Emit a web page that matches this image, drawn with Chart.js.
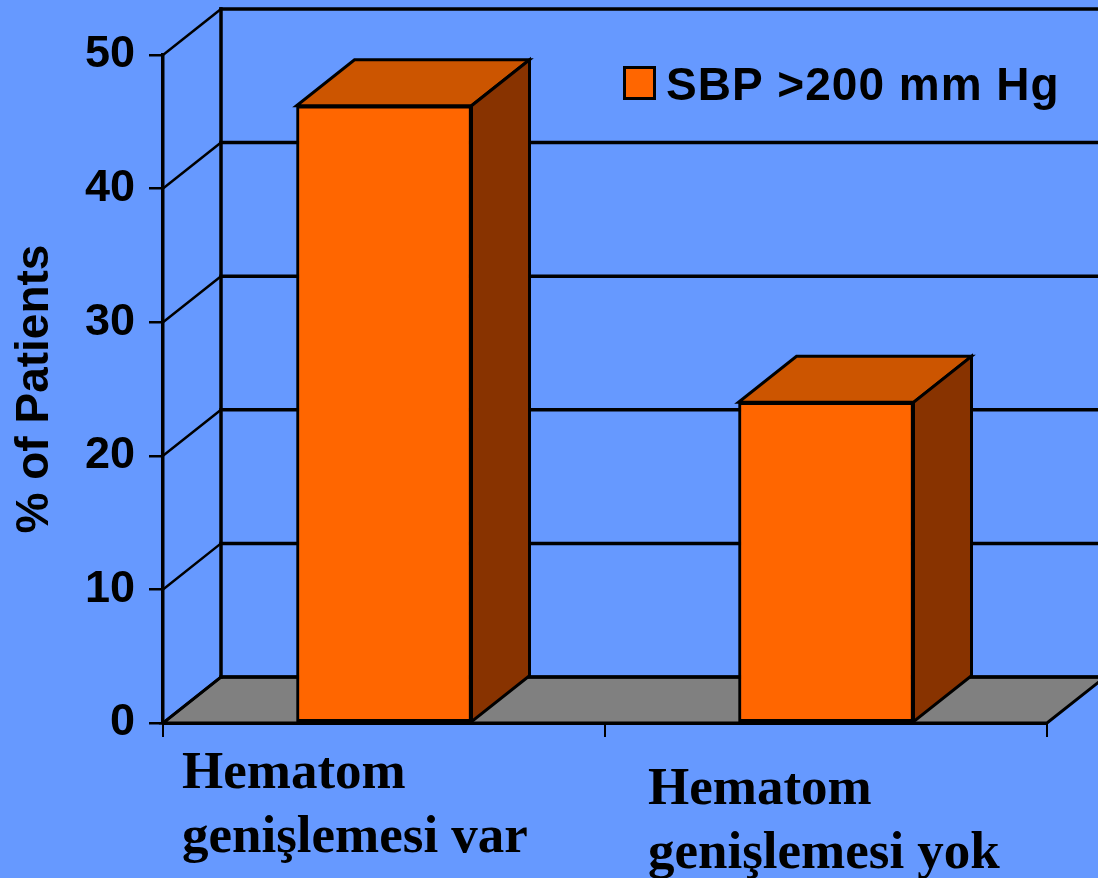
<!DOCTYPE html>
<html>
<head>
<meta charset="utf-8">
<script src="https://cdn.jsdelivr.net/npm/chart.js@4.4.1/dist/chart.umd.min.js"></script>
<style>
    html, body { margin: 0; padding: 0; background: #6699FF; }
    canvas { display: block; }
</style>
</head>
<body>
<canvas id="chart" width="1098" height="878"></canvas>
<script>
// data
const categories = [["Hematom", "genişlemesi var"], ["Hematom", "genişlemesi yok"]];
const seriesLabel = "SBP >200 mm Hg";
const seriesValues = [46.2, 24];
const yTicks = [0, 10, 20, 30, 40, 50];
const yTitle = "% of Patients";

// look
const FRONT = "#FF6600";
const TOP = "#CC5500";
const SIDE = "#883300";
const FLOOR = "#808080";
const DX = 58, DY = -46;
const labelPlace = [{dx: -202, dy: 65}, {dx: -178, dy: 81}];

function line(ctx, x1, y1, x2, y2) {
    ctx.beginPath();
    ctx.moveTo(x1, y1);
    ctx.lineTo(x2, y2);
    ctx.stroke();
}

const threeD = {
    id: "threeD",

    beforeDatasetsDraw(chart) {
        const {ctx, chartArea: a, scales: {y}} = chart;
        const y0 = y.getPixelForValue(0);
        const yMax = y.getPixelForValue(yTicks[yTicks.length - 1]);
        ctx.save();
        ctx.strokeStyle = "#000";
        ctx.lineCap = "square";

        // floor
        ctx.lineWidth = 3;
        ctx.fillStyle = FLOOR;
        ctx.beginPath();
        ctx.moveTo(a.left, y0);
        ctx.lineTo(a.right, y0);
        ctx.lineTo(a.right + DX, y0 + DY);
        ctx.lineTo(a.left + DX, y0 + DY);
        ctx.closePath();
        ctx.fill();
        ctx.stroke();

        // side wall diagonals and back wall grid
        yTicks.forEach(v => {
            const py = y.getPixelForValue(v);
            ctx.lineWidth = 2.5;
            line(ctx, a.left, py, a.left + DX, py + DY);
            ctx.lineWidth = 3.5;
            line(ctx, a.left + DX, py + DY, a.right + DX, py + DY);
        });
        ctx.lineWidth = 3.5;
        line(ctx, a.left + DX, y0 + DY, a.left + DX, yMax + DY);
        ctx.restore();
    },

    afterDatasetsDraw(chart) {
        const {ctx} = chart;
        const meta = chart.getDatasetMeta(0);
        ctx.save();
        ctx.strokeStyle = "#000";
        ctx.lineWidth = 3;
        ctx.lineJoin = "miter";
        meta.data.forEach(bar => {
            const x1 = bar.x - bar.width / 2;
            const x2 = bar.x + bar.width / 2;
            const top = bar.y;
            const base = bar.base;

            ctx.fillStyle = TOP;
            ctx.beginPath();
            ctx.moveTo(x1, top);
            ctx.lineTo(x2, top);
            ctx.lineTo(x2 + DX, top + DY);
            ctx.lineTo(x1 + DX, top + DY);
            ctx.closePath();
            ctx.fill();
            ctx.stroke();

            ctx.fillStyle = SIDE;
            ctx.beginPath();
            ctx.moveTo(x2, top);
            ctx.lineTo(x2 + DX, top + DY);
            ctx.lineTo(x2 + DX, base + DY);
            ctx.lineTo(x2, base);
            ctx.closePath();
            ctx.fill();
            ctx.stroke();
        });
        ctx.restore();
    },

    afterDraw(chart) {
        const {ctx, chartArea: a, scales: {x}} = chart;
        ctx.save();

        // legend
        const bx = a.right - 424, by = a.top + 11;
        ctx.fillStyle = FRONT;
        ctx.fillRect(bx, by, 33, 34);
        ctx.strokeStyle = "#000";
        ctx.lineWidth = 3;
        ctx.strokeRect(bx + 1.5, by + 1.5, 30, 31);
        ctx.fillStyle = "#000";
        ctx.font = "bold 46px 'Liberation Sans', Arial, sans-serif";
        ctx.textBaseline = "alphabetic";
        ctx.textAlign = "left";
        ctx.letterSpacing = "1px";
        ctx.fillText(chart.data.datasets[0].label, bx + 43, by + 34);

        // category labels
        ctx.letterSpacing = "0px";
        ctx.font = "bold 53px 'Liberation Serif', 'Times New Roman', serif";
        chart.data.labels.forEach((lab, i) => {
            const px = x.getPixelForValue(i) + labelPlace[i].dx;
            const py = a.bottom + labelPlace[i].dy;
            lab.forEach((t, j) => ctx.fillText(t, px, py + j * 64));
        });
        ctx.restore();
    }
};

new Chart(document.getElementById("chart"), {
    type: "bar",
    data: {
        labels: categories,
        datasets: [{
            label: seriesLabel,
            data: seriesValues,
            backgroundColor: FRONT,
            borderColor: "#000",
            borderWidth: 3,
            borderSkipped: false,
            barThickness: 175
        }]
    },
    options: {
        responsive: false,
        animation: false,
        layout: {
            padding: {left: 0, top: 55, right: 51, bottom: 0}
        },
        plugins: {
            legend: {display: false},
            tooltip: {enabled: false}
        },
        scales: {
            x: {
                ticks: {display: false},
                grid: {
                    drawOnChartArea: false,
                    tickLength: 14,
                    color: "#000",
                    lineWidth: 2
                },
                border: {color: "#000", width: 3},
                afterFit(scale) {
                    scale.height = 155;
                }
            },
            y: {
                min: 0,
                max: 50,
                ticks: {
                    stepSize: 10,
                    color: "#000",
                    padding: 14,
                    font: {family: "'Liberation Sans', Arial", size: 45, weight: "bold"}
                },
                grid: {
                    drawOnChartArea: false,
                    tickLength: 14,
                    color: "#000",
                    lineWidth: 2.5
                },
                border: {color: "#000", width: 3.5},
                title: {
                    display: true,
                    text: yTitle,
                    color: "#000",
                    padding: {top: 8, bottom: 0},
                    font: {family: "'Liberation Sans', Arial", size: 46, weight: "bold"}
                },
                afterFit(scale) {
                    scale.width = 163;
                }
            }
        }
    },
    plugins: [threeD]
});
</script>
</body>
</html>
